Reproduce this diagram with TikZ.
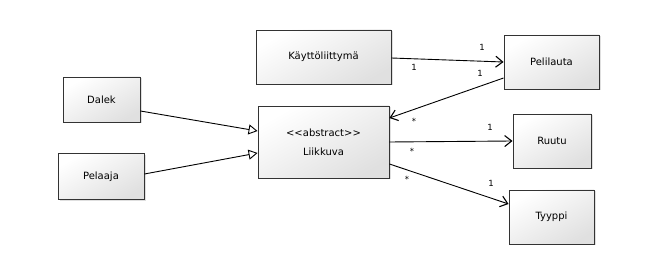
\documentclass[tikz,border=0pt]{standalone}
\usepackage{fontspec}
\setmainfont{DejaVu Sans}
\usetikzlibrary{arrows.meta,shadows}
\begin{document}
\begin{tikzpicture}[x=1pt,y=-1pt,
  cls/.style={draw=black!80, line width=0.9pt, shading=axis, top color=white, bottom color=black!12,
    shading angle=30, font=\fontsize{10}{12}\selectfont, align=center, inner sep=0pt,
    drop shadow={shadow xshift=1.5pt, shadow yshift=-1.5pt, opacity=0.25}},
  assoc/.style={line width=0.9pt, -{Straight Barb[length=7pt,width=11pt,line width=1.1pt]}},
  gen/.style={line width=0.9pt, -{Triangle[open,length=9pt,width=10pt,fill=white]}},
  mult/.style={font=\fontsize{8.5}{10}\selectfont, inner sep=0pt}]
\useasboundingbox (0,0) rectangle (646,264);
% classes
\node[cls, minimum width=135, minimum height=54] (ui) at (323.5,57) {Käyttöliittymä};
\node[cls, minimum width=95, minimum height=54] (board) at (551.5,62) {Pelilauta};
\node[cls, minimum width=77, minimum height=45] (dalek) at (101.5,99.5) {Dalek};
\node[cls, minimum width=86, minimum height=46] (player) at (101,176.5) {Pelaaja};
\node[cls, minimum width=131, minimum height=72] (mover) at (323.5,142) {{<}{<}abstract{>}{>}\\[7pt]Liikkuva};
\node[cls, minimum width=78, minimum height=54] (tile) at (552,141) {Ruutu};
\node[cls, minimum width=85, minimum height=54] (type) at (551.5,217) {Tyyppi};
% associations
\draw[assoc] (ui.east |- 0,58) -- (board.west |- 0,62);
\draw[assoc] (board.west |- 0,78) -- (mover.east |- 0,118);
\draw[assoc] (mover.east |- 0,142) -- (tile.west |- 0,141);
\draw[assoc] (mover.east |- 0,164) -- (type.west |- 0,204);
% generalizations
\draw[gen] (dalek.east |- 0,111) -- (mover.west |- 0,131);
\draw[gen] (player.east |- 0,174) -- (mover.west |- 0,153);
% multiplicities
\node[mult] (m1) at (482,47) {1};
\node[mult] (m2) at (414,67) {1};
\node[mult] (m3) at (480,73) {1};
\node[mult] (m4) at (414,121) {*};
\node[mult] (m5) at (490,127) {1};
\node[mult] (m6) at (412,151) {*};
\node[mult] (m7) at (407,179) {*};
\node[mult] (m8) at (491,183) {1};
\end{tikzpicture}
\end{document}
